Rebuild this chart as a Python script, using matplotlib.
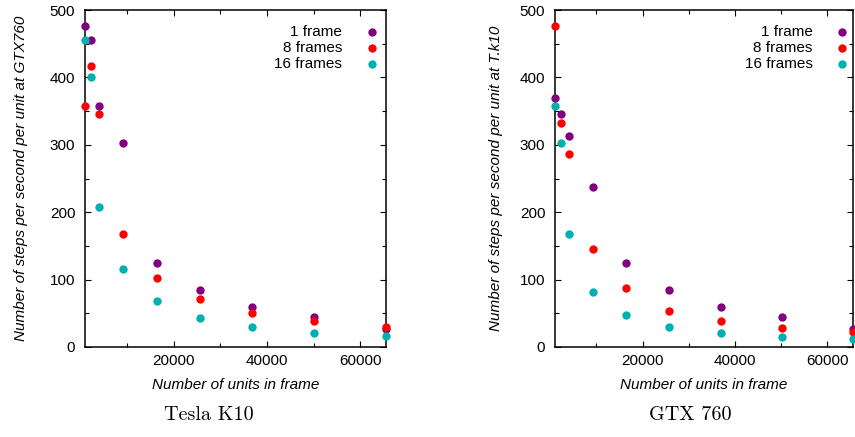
import matplotlib
matplotlib.use('Agg')
import matplotlib.pyplot as plt
from matplotlib.ticker import MultipleLocator

# ========== data ==========
units = [1024, 2304, 4096, 9216, 16384, 25600, 36864, 50176, 65536]
labels = ['1 frame', '8 frames', '16 frames']
colors = ['#800080', '#ff0000', '#00b0b0']

# Tesla K10 (left panel)
k10_1 = [476, 455, 357, 303, 125, 84, 60, 45, 27]
k10_8 = [357, 417, 345, 167, 103, 71, 51, 38, 29]
k10_16 = [455, 400, 208, 115, 68, 43, 29, 21, 16]

# GTX 760 (right panel)
gtx_1 = [370, 345, 313, 238, 125, 85, 59, 45, 27]
gtx_8 = [476, 333, 286, 145, 87, 53, 39, 28, 22]
gtx_16 = [357, 303, 167, 81, 48, 30, 21, 15, 12]

plt.rcParams['font.family'] = ['Liberation Sans', 'DejaVu Sans']

W, H = 855, 437
fig = plt.figure(figsize=(W / 100, H / 100), dpi=100)
ax1 = fig.add_axes([85 / W, (H - 347) / H, 301 / W, 337 / H])
ax2 = fig.add_axes([555 / W, (H - 347) / H, 298 / W, 337 / H])


def draw_panel(ax, series, ylabel, ylab_x, leg_text_x, leg_mark_x):
    for vals, lab, col in zip(series, labels, colors):
        ax.plot(units, vals, 'o', color=col, ms=6, mew=0, clip_on=False, zorder=3)

    # gnuplot style key: text right-aligned, marker on the right
    for i, (lab, col) in enumerate(zip(labels, colors)):
        y = 0.934 - i * 0.047
        ax.text(leg_text_x, y, lab, transform=ax.transAxes, ha='right', va='center', fontsize=11)
        ax.plot([leg_mark_x], [y], 'o', color=col, ms=6, mew=0, transform=ax.transAxes, clip_on=False)

    ax.set_xlim(1024, 65536)
    ax.set_ylim(0, 500)
    ax.xaxis.set_major_locator(MultipleLocator(20000))
    ax.xaxis.set_minor_locator(MultipleLocator(10000))
    ax.yaxis.set_major_locator(MultipleLocator(100))
    ax.yaxis.set_minor_locator(MultipleLocator(50))
    ax.tick_params(which='both', direction='in', top=True, right=True, labelsize=11)
    ax.tick_params(which='major', length=4, width=0.8)
    ax.tick_params(which='minor', length=3, width=0.8)
    ax.tick_params(axis='y', pad=7)
    ax.tick_params(axis='x', pad=5)
    for sp in ax.spines.values():
        sp.set_linewidth(1.1)

    ax.set_xlabel('Number of units in frame', fontsize=11, style='italic')
    ax.xaxis.set_label_coords(0.5, -0.093)
    ax.set_ylabel(ylabel, fontsize=11, style='italic')
    ax.yaxis.set_label_coords(ylab_x, 0.5)


draw_panel(ax1, [k10_1, k10_8, k10_16], 'Number of steps per second per unit at GTX760',
           -0.19, 0.854, 0.953)
draw_panel(ax2, [gtx_1, gtx_8, gtx_16], 'Number of steps per second per unit at T.k10',
           -0.175, 0.865, 0.964)

fig.text(209 / W, 1 - 415 / H, 'Tesla K10', ha='center', va='center', family='cmr10', fontsize=14.5)
fig.text(690 / W, 1 - 415 / H, 'GTX 760', ha='center', va='center', family='cmr10', fontsize=14.5)

fig.savefig('out.png', dpi=100)
